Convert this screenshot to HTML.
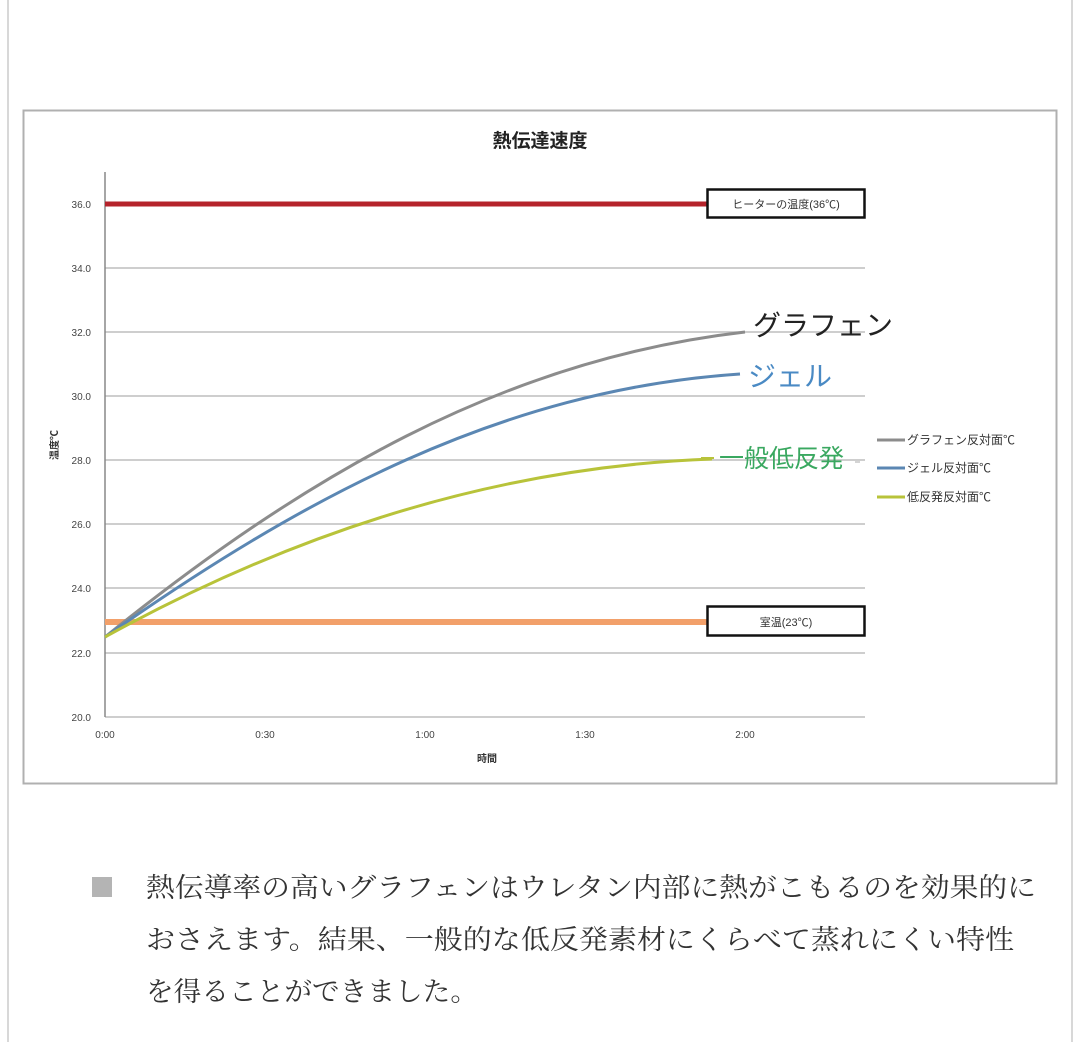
<!DOCTYPE html>
<html><head><meta charset="utf-8"><style>
html,body{margin:0;padding:0;background:#fff;}
body{width:1080px;height:1042px;overflow:hidden;position:relative;font-family:"Liberation Sans","Noto Sans CJK JP",sans-serif;}
</style></head><body>
<svg width="1080" height="1042" xmlns="http://www.w3.org/2000/svg" style="position:absolute;left:0;top:0">
<line x1="8" y1="0" x2="8" y2="1042" stroke="#d8d8d8" stroke-width="2"/>
<line x1="1072" y1="0" x2="1072" y2="1042" stroke="#d8d8d8" stroke-width="2"/>
<rect x="23.5" y="110.5" width="1033" height="673" fill="#fff" stroke="#b0b0b0" stroke-width="2"/>
<text x="540" y="147" text-anchor="middle" font-size="19" font-weight="bold" fill="#222">熱伝達速度</text>
<g stroke="#bdbdbd" stroke-width="1.5">
<line x1="105" y1="268" x2="865" y2="268"/>
<line x1="105" y1="332" x2="865" y2="332"/>
<line x1="105" y1="396" x2="865" y2="396"/>
<line x1="105" y1="460" x2="865" y2="460"/>
<line x1="105" y1="524" x2="865" y2="524"/>
<line x1="105" y1="588" x2="865" y2="588"/>
<line x1="105" y1="653" x2="865" y2="653"/>
<line x1="105" y1="717" x2="865" y2="717"/>
</g>
<line x1="105" y1="172" x2="105" y2="717" stroke="#888" stroke-width="1.5"/>
<g font-size="10" fill="#444" text-anchor="end">
<text x="91" y="208">36.0</text><text x="91" y="272">34.0</text><text x="91" y="336">32.0</text>
<text x="91" y="400">30.0</text><text x="91" y="464">28.0</text><text x="91" y="528">26.0</text>
<text x="91" y="592">24.0</text><text x="91" y="657">22.0</text><text x="91" y="721">20.0</text>
</g>
<g font-size="10" fill="#444" text-anchor="middle">
<text x="105" y="738">0:00</text><text x="265" y="738">0:30</text><text x="425" y="738">1:00</text>
<text x="585" y="738">1:30</text><text x="745" y="738">2:00</text>
</g>
<text x="487" y="762" text-anchor="middle" font-size="10" font-weight="bold" fill="#333">時間</text>
<text transform="translate(58,445) rotate(-90)" text-anchor="middle" font-size="10" font-weight="bold" fill="#333">温度℃</text>
<line x1="105" y1="204" x2="707" y2="204" stroke="#b5232b" stroke-width="5"/>
<line x1="105" y1="622" x2="707" y2="622" stroke="#f2a06a" stroke-width="6"/>
<path d="M105,637 C300,480 500,360 745,332" fill="none" stroke="#8c8c8c" stroke-width="3"/>
<path d="M105,637 C300,500 500,390 740,374" fill="none" stroke="#5b87b3" stroke-width="3"/>
<path d="M105,637 Q408,470 712,459" fill="none" stroke="#b8c33a" stroke-width="3"/>
<rect x="707.5" y="189.5" width="157" height="28" fill="#fff" stroke="#111" stroke-width="2.5"/>
<text x="786" y="208" text-anchor="middle" font-size="11" fill="#333">ヒーターの温度(36℃)</text>
<rect x="707.5" y="606.5" width="157" height="29" fill="#fff" stroke="#111" stroke-width="2.5"/>
<text x="786" y="626" text-anchor="middle" font-size="11" fill="#333">室温(23℃)</text>
<text x="753" y="335" font-size="28" fill="#222">グラフェン</text>
<text x="748" y="386" font-size="28" fill="#4a8ac4">ジェル</text>
<line x1="701" y1="458" x2="714" y2="458" stroke="#b8c33a" stroke-width="2"/>
<text x="719" y="467" font-size="25" fill="#3aa860">一般低反発</text>
<line x1="855" y1="462" x2="860" y2="462" stroke="#aaa" stroke-width="1"/>
<g stroke-width="3">
<line x1="877" y1="440" x2="905" y2="440" stroke="#8c8c8c"/>
<line x1="877" y1="468" x2="905" y2="468" stroke="#5b87b3"/>
<line x1="877" y1="497" x2="905" y2="497" stroke="#b8c33a"/>
</g>
<g font-size="12" fill="#333">
<text x="907" y="444">グラフェン反対面℃</text>
<text x="907" y="472">ジェル反対面℃</text>
<text x="907" y="501">低反発反対面℃</text>
</g>
<rect x="92" y="877" width="20" height="20" fill="#b4b4b4"/>
<g font-size="27" fill="#333" font-family="Liberation Serif,Noto Serif CJK SC,serif">
<text x="146" y="897" textLength="890" lengthAdjust="spacingAndGlyphs">熱伝導率の高いグラフェンはウレタン内部に熱がこもるのを効果的に</text>
<text x="146" y="949" textLength="868" lengthAdjust="spacingAndGlyphs">おさえます。結果、一般的な低反発素材にくらべて蒸れにくい特性</text>
<text x="146" y="1001" textLength="332" lengthAdjust="spacingAndGlyphs">を得ることができました。</text>
</g>
</svg>
</body></html>
